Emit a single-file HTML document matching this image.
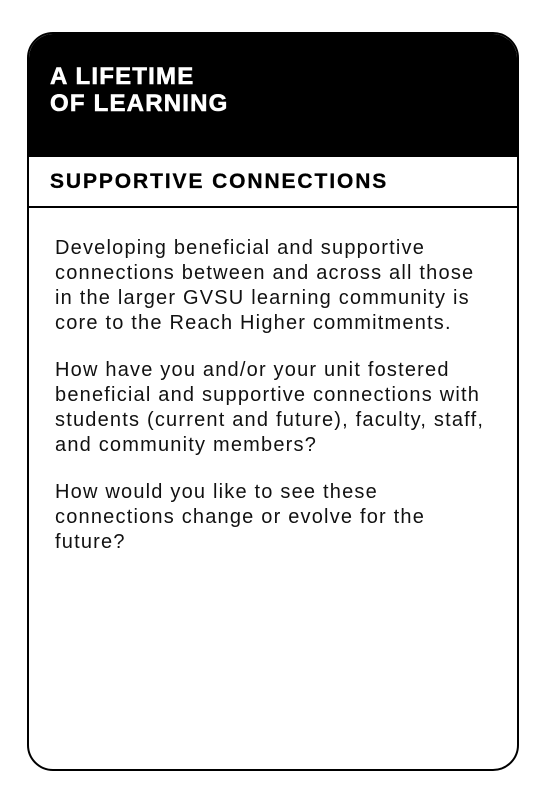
<!DOCTYPE html>
<html><head><meta charset="utf-8">
<style>
html,body{margin:0;padding:0;background:#fff;width:539px;height:800px;overflow:hidden}
.card{position:absolute;left:27px;top:32px;width:488px;height:735px;border:2px solid #000;border-radius:26px;overflow:hidden;background:#fff}
.hdr{position:absolute;left:0;top:0;width:100%;height:123px;background:#000}
.ttl{position:absolute;left:21px;top:29px;color:#fff;font:bold 24px/27px "Liberation Sans",sans-serif;letter-spacing:1.2px;white-space:nowrap;-webkit-text-stroke:0.6px #fff}
.sub{position:absolute;left:0;top:121px;width:100%;height:53px;border-top:2px solid #000;border-bottom:2px solid #000;box-sizing:border-box}
.subt{position:absolute;left:21px;top:13px;font:bold 21px/24px "Liberation Sans",sans-serif;letter-spacing:1.9px;white-space:nowrap;color:#000;-webkit-text-stroke:0.3px #000}
.body{position:absolute;left:26px;top:202px;font:20px/25px "Liberation Sans",sans-serif;letter-spacing:1.2px;color:#111;white-space:nowrap}
.body p{margin:0 0 22px 0}
</style></head><body>
<div class="card">
  <div class="hdr">
    <div class="ttl">A LIFETIME<br>OF LEARNING</div>
  </div>
  <div class="sub">
    <div class="subt">SUPPORTIVE CONNECTIONS</div>
  </div>
  <div class="body">
    <p>Developing beneficial and supportive<br>connections between and across all those<br>in the larger GVSU learning community is<br>core to the Reach Higher commitments.</p>
    <p>How have you and/or your unit fostered<br>beneficial and supportive connections with<br>students (current and future), faculty, staff,<br>and community members?</p>
    <p>How would you like to see these<br>connections change or evolve for the<br>future?</p>
  </div>
</div>
</body></html>
